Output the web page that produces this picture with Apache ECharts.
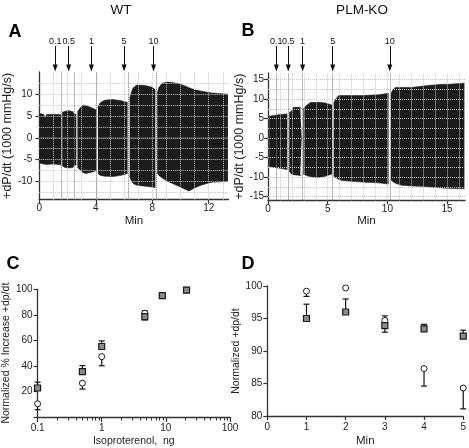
<!DOCTYPE html>
<html>
<head>
<meta charset="utf-8">
<script src="https://cdn.jsdelivr.net/npm/echarts@6/dist/echarts.min.js"></script>
<style>html,body{margin:0;padding:0;background:#fff;}#c{width:469px;height:448px;}</style>
</head>
<body>
<div id="c"></div>
<script>
// ---------- Panel A (WT) envelope of the +dP/dt trace ----------
const wtTime  = [0, 0.3, 0.4, 0.5, 1.0, 1.55, 1.58, 1.62, 1.8, 2.1, 2.38, 2.45, 2.62, 2.66, 2.7, 2.9, 3.1, 3.3, 3.7, 4.05, 4.1, 4.15, 4.3, 4.6, 5.2, 5.8, 6.25, 6.33, 6.4, 6.5, 6.65, 6.9, 7.5, 8.0, 8.22, 8.29, 8.35, 8.45, 8.7, 9.1, 9.8, 10.4, 10.6, 11.0, 11.5, 12.2, 13.36];
const wtUpper = [5.6, 5.4, 4.6, 5.3, 5.4, 5.3, null, 5.8, 6.1, 6.2, 6.0, 5.4, 5.4, null, 6.0, 6.9, 7.5, 7.4, 6.9, 6.4, null, 7.0, 8.0, 8.6, 8.8, 8.5, 8.1, null, 9.0, 10.3, 11.5, 12.1, 12.0, 11.6, 11.0, null, 10.0, 11.5, 12.5, 12.8, 12.5, 11.8, 11.5, 11.0, 10.7, 10.3, 10.0];
const wtLower = [-5.8, -6.0, -6.0, -6.1, -6.0, -6.2, null, -6.4, -6.8, -6.9, -6.8, -6.3, -6.2, null, -6.8, -7.4, -8.0, -8.2, -7.9, -7.5, null, -8.2, -8.6, -8.8, -8.9, -8.6, -8.2, null, -8.8, -9.8, -10.5, -10.9, -11.1, -11.3, -11.4, null, -8.0, -8.6, -9.2, -10.0, -11.0, -11.9, -12.2, -11.5, -10.8, -10.2, -10.0];
const wtDrugTimes = [1.58, 2.5, 4.05, 6.28, 8.29];

// ---------- Panel B (PLM-KO) envelope ----------
const koTime  = [0.1, 0.9, 1.62, 1.7, 1.78, 1.95, 2.15, 2.7, 2.82, 2.89, 2.96, 3.12, 3.54, 4.24, 4.8, 5.36, 5.43, 5.5, 5.63, 5.91, 6.19, 7.87, 9.26, 10.1, 10.22, 10.3, 10.38, 10.66, 11.2, 12.05, 12.9, 13.4, 14.56, 15.1, 16.45];
const koUpper = [5.6, 6.0, 6.2, null, 6.6, 6.8, 7.9, 7.9, 7.5, null, 7.5, 8.1, 9.1, 9.2, 9.0, 8.5, null, 9.0, 9.8, 10.9, 10.9, 10.9, 11.1, 11.5, null, 11.0, 12.0, 13.0, 13.0, 13.0, 13.3, 13.5, 13.8, 13.8, 14.1];
const koLower = [-7.3, -7.7, -8.1, null, -8.5, -9.2, -9.4, -9.6, -9.4, null, -9.3, -9.6, -9.9, -10.1, -9.8, -9.2, null, -9.8, -10.3, -10.6, -10.9, -11.3, -11.5, -11.8, null, -10.8, -11.1, -11.6, -12.1, -12.3, -12.4, -12.5, -12.8, -12.9, -13.0];
const koDrugTimes = [0.7, 1.7, 2.9, 5.42, 10.2];
const doseLabels = ['0.1', '0.5', '1', '5', '10'];

// ---------- Panel C ----------
const isoDose    = [0.1, 0.5, 1, 4.7, 8.8, 21];
const cSquare    = [22.7, 35.6, 55.2, 78.6, 95.0, 99.4];
const cSquareErr = [27.3, 40.3, 59.6, 83.1, null, null];
const cCircle    = [10.4, 26.5, 47.3, 81.3, 95.0, 99.4];
const cCircleErr = [5.7, 21.9, 40.1, 76.0, null, null];
const cTickLabels = [0.1, 1, 10, 100];
const cMinorTicks = [0.2,0.3,0.4,0.5,0.6,0.7,0.8,0.9,2,3,4,5,6,7,8,9,20,30,40,50,60,70,80,90];

// ---------- Panel D ----------
const dMin       = [1, 2, 3, 4, 5];
const dSquare    = [95.0, 96.0, 93.9, 93.4, 92.3];
const dSquareErr = [97.2, 98.0, 95.4, 94.1, 93.2];
const dCircle    = [99.2, 99.7, 94.7, 87.3, 84.3];
const dCircleErr = [98.4, null, 92.9, 84.6, 81.1];

const wtXTicks = [0, 4, 8, 12];
const wtYTicks = [-10, -5, 0, 5, 10];
const koXTicks = [0, 5, 10, 15];
const koYTicks = [-15, -10, -5, 0, 5, 10, 15];

const F = 'Liberation Sans, Arial, Helvetica, sans-serif';
const AX = '#333';
const FILL = '#1c1c1c';

function pairs(t, v) { return t.map((x, i) => [x, v[i]]); }
function range(a, b, s) { const r = []; for (let v = a; v <= b + 1e-9; v += s) r.push(+v.toFixed(4)); return r; }

function gridLines(hVals, vVals, drugs) {
  const minor = { type: 'dotted', color: '#c4c4c4', width: 1 };
  const drug = { type: 'dotted', color: '#777', width: 1 };
  return [].concat(
    hVals.map(v => ({ yAxis: v, lineStyle: minor })),
    vVals.map(v => ({ xAxis: v, lineStyle: minor })),
    drugs.map(v => ({ xAxis: v, lineStyle: drug }))
  );
}

function axisBase(extra) {
  return Object.assign({
    axisLine: { show: true, onZero: false, lineStyle: { color: AX, width: 1.3 } },
    axisTick: { show: true, length: 4, lineStyle: { color: AX, width: 1.2 } },
    axisLabel: { color: '#222', fontSize: 10, fontFamily: F },
    splitLine: { show: false },
    nameTextStyle: { color: '#222', fontFamily: F },
    nameLocation: 'middle'
  }, extra);
}

function envSeries(xi, t, v) {
  return {
    type: 'line', xAxisIndex: xi, yAxisIndex: xi, data: pairs(t, v),
    symbol: 'none', connectNulls: false, z: 3,
    lineStyle: { color: FILL, width: 0.6 },
    areaStyle: { color: FILL, opacity: 1 },
    silent: true
  };
}

function arrowSeries(xi, times) {
  return {
    type: 'line', xAxisIndex: xi, yAxisIndex: xi, data: [],
    markLine: {
      silent: true, animation: false,
      symbol: ['none', 'triangle'], symbolSize: [5, 7], symbolOffset: 0,
      lineStyle: { color: '#111', width: 1, type: 'solid' },
      label: { show: true, position: 'start', formatter: '{b}', fontSize: 9, color: '#111', fontFamily: F, distance: 0 },
      data: times.map((t, i) => [{ name: doseLabels[i], coord: [t, 1] }, { coord: [t, 0] }])
    }
  };
}

function errRender(params, api) {
  const x = api.value(0), v = api.value(1), e = api.value(2);
  if (e == null || isNaN(e)) return;
  const p1 = api.coord([x, v]), p2 = api.coord([x, e]);
  const w = 3;
  return {
    type: 'group', children: [
      { type: 'line', shape: { x1: p1[0], y1: p1[1], x2: p2[0], y2: p2[1] }, style: { stroke: '#111', lineWidth: 1.2 } },
      { type: 'line', shape: { x1: p2[0] - w, y1: p2[1], x2: p2[0] + w, y2: p2[1] }, style: { stroke: '#111', lineWidth: 1.2 } }
    ]
  };
}

function errSeries(xi, yi, xs, vals, errs) {
  return {
    type: 'custom', xAxisIndex: xi, yAxisIndex: yi, z: 2, silent: true,
    renderItem: errRender,
    data: xs.map((x, i) => [x, vals[i], errs[i] == null ? NaN : errs[i]])
  };
}

function sq(xi, yi, xs, vals) {
  return { type: 'scatter', xAxisIndex: xi, yAxisIndex: yi, z: 4, symbol: 'rect', symbolSize: 6,
    itemStyle: { color: '#8c8c8c', borderColor: '#1a1a1a', borderWidth: 1.2, opacity: 1 },
    data: xs.map((x, i) => [x, vals[i]]) };
}
function circ(xi, yi, xs, vals) {
  return { type: 'scatter', xAxisIndex: xi, yAxisIndex: yi, z: 3, symbol: 'circle', symbolSize: 6,
    itemStyle: { color: '#fff', borderColor: '#1a1a1a', borderWidth: 1, opacity: 1 },
    data: xs.map((x, i) => [x, vals[i]]) };
}

const option = {
  animation: false,
  textStyle: { fontFamily: F },
  grid: [
    { left: 32, top: 72, width: 196.5, height: 127.7 },   // 0 A
    { left: 268, top: 73, width: 197, height: 127.4 },    // 1 B
    { left: 32, top: 46, width: 196.5, height: 22 },      // 2 A arrows
    { left: 268, top: 46, width: 197, height: 22 },       // 3 B arrows
    { left: 31.7, top: 289.3, width: 198.3, height: 128 },// 4 C
    { left: 267.3, top: 286, width: 198.4, height: 130.7 }// 5 D
  ],
  xAxis: [
    axisBase({ type: 'value', gridIndex: 0, min: 0, max: 13.4, name: 'Min', nameGap: 10, nameTextStyle: { fontSize: 11.5, color: '#222', fontFamily: F },
      axisLabel: { color: '#222', fontSize: 10, fontFamily: F, margin: 4, customValues: wtXTicks },
      axisTick: { show: true, length: 4, customValues: wtXTicks, lineStyle: { color: AX, width: 1.2 } } }),
    axisBase({ type: 'value', gridIndex: 1, min: 0, max: 16.5, name: 'Min', nameGap: 10, nameTextStyle: { fontSize: 11.5, color: '#222', fontFamily: F },
      axisLabel: { color: '#222', fontSize: 10, fontFamily: F, margin: 4, customValues: koXTicks },
      axisTick: { show: true, length: 4, customValues: koXTicks, lineStyle: { color: AX, width: 1.2 } } }),
    { type: 'value', gridIndex: 2, min: 0, max: 13.4, show: false },
    { type: 'value', gridIndex: 3, min: 0, max: 16.5, show: false },
    axisBase({ type: 'log', logBase: 10, gridIndex: 4, min: 0.1, max: 100, name: 'Isoproterenol,  ng', nameGap: 19,
      nameTextStyle: { fontSize: 10.5, color: '#222', fontFamily: F },
      axisLabel: { color: '#222', fontSize: 10, fontFamily: F, margin: 6, customValues: cTickLabels, formatter: v => String(v) },
      axisTick: { show: true, length: 5, customValues: cTickLabels, lineStyle: { color: AX, width: 1.2 } } }),
    { type: 'log', logBase: 10, gridIndex: 4, min: 0.1, max: 100, position: 'bottom',
      axisLine: { show: false, onZero: false }, axisLabel: { show: false }, splitLine: { show: false },
      axisTick: { show: true, length: 3.5, customValues: cMinorTicks, lineStyle: { color: AX, width: 1 } } },
    axisBase({ type: 'value', gridIndex: 5, min: 0, max: 5, interval: 1, name: 'Min', nameGap: 19,
      nameTextStyle: { fontSize: 11.5, color: '#222', fontFamily: F },
      axisLabel: { color: '#222', fontSize: 10, fontFamily: F, margin: 6 } })
  ],
  yAxis: [
    axisBase({ type: 'value', gridIndex: 0, min: -14.2, max: 15.1, name: '+dP/dt (1000 mmHg/s)', nameGap: 19,
      nameTextStyle: { fontSize: 12.5, color: '#222', fontFamily: F },
      axisLabel: { color: '#222', fontSize: 10, fontFamily: F, margin: 7, customValues: wtYTicks },
      axisTick: { show: true, length: 4, customValues: wtYTicks, lineStyle: { color: AX, width: 1.2 } } }),
    axisBase({ type: 'value', gridIndex: 1, min: -16, max: 16.7, name: '+dP/dt (1000 mmHg/s)', nameGap: 19,
      nameTextStyle: { fontSize: 12.5, color: '#222', fontFamily: F },
      axisLabel: { color: '#222', fontSize: 10, fontFamily: F, margin: 4, customValues: koYTicks },
      axisTick: { show: true, length: 4, customValues: koYTicks, lineStyle: { color: AX, width: 1.2 } } }),
    { type: 'value', gridIndex: 2, min: 0, max: 1, show: false },
    { type: 'value', gridIndex: 3, min: 0, max: 1, show: false },
    axisBase({ type: 'value', gridIndex: 4, min: 0, max: 100, interval: 20, name: 'Normalized % Increase +dp/dt', nameGap: 18,
      nameTextStyle: { fontSize: 10.5, color: '#222', fontFamily: F },
      axisLabel: { color: '#222', fontSize: 10, fontFamily: F, margin: 5, formatter: v => v === 0 ? '' : String(v) } }),
    axisBase({ type: 'value', gridIndex: 5, min: 80, max: 100, interval: 5, name: 'Normalized +dp/dt', nameGap: 18,
      nameTextStyle: { fontSize: 10.5, color: '#222', fontFamily: F },
      axisLabel: { color: '#222', fontSize: 10, fontFamily: F, margin: 5 } })
  ],
  series: [
    { type: 'line', xAxisIndex: 0, yAxisIndex: 0, data: [], z: 1,
      markLine: { silent: true, animation: false, symbol: 'none', label: { show: false },
        data: gridLines(range(-12.5, 12.5, 2.5), range(1, 13, 1), wtDrugTimes) } },
    envSeries(0, wtTime, wtUpper),
    envSeries(0, wtTime, wtLower),
    { type: 'line', xAxisIndex: 1, yAxisIndex: 1, data: [], z: 1,
      markLine: { silent: true, animation: false, symbol: 'none', label: { show: false },
        data: gridLines(range(-15, 15, 2.5), range(1, 16, 1), koDrugTimes) } },
    envSeries(1, koTime, koUpper),
    envSeries(1, koTime, koLower),
    arrowSeries(2, wtDrugTimes),
    arrowSeries(3, koDrugTimes),
    errSeries(4, 4, isoDose, cCircle, cCircleErr),
    errSeries(4, 4, isoDose, cSquare, cSquareErr),
    circ(4, 4, isoDose, cCircle),
    sq(4, 4, isoDose, cSquare),
    errSeries(6, 5, dMin, dCircle, dCircleErr),
    errSeries(6, 5, dMin, dSquare, dSquareErr),
    circ(6, 5, dMin, dCircle),
    sq(6, 5, dMin, dSquare)
  ],
  graphic: [
    { type: 'text', x: 121, y: 10, style: { text: 'WT', font: '13.5px ' + F, fill: '#111', textAlign: 'center', textVerticalAlign: 'middle' } },
    { type: 'text', x: 362, y: 10, style: { text: 'PLM-KO', font: '13.5px ' + F, fill: '#111', textAlign: 'center', textVerticalAlign: 'middle' } },
    { type: 'text', x: 15, y: 32, style: { text: 'A', font: 'bold 18px ' + F, fill: '#000', textAlign: 'center', textVerticalAlign: 'middle' } },
    { type: 'text', x: 248, y: 31, style: { text: 'B', font: 'bold 18px ' + F, fill: '#000', textAlign: 'center', textVerticalAlign: 'middle' } },
    { type: 'text', x: 13, y: 264, style: { text: 'C', font: 'bold 18px ' + F, fill: '#000', textAlign: 'center', textVerticalAlign: 'middle' } },
    { type: 'text', x: 248, y: 264, style: { text: 'D', font: 'bold 18px ' + F, fill: '#000', textAlign: 'center', textVerticalAlign: 'middle' } }
  ]
};

const chart = echarts.init(document.getElementById('c'), null, { renderer: 'canvas' });
chart.setOption(option);
</script>
</body>
</html>
